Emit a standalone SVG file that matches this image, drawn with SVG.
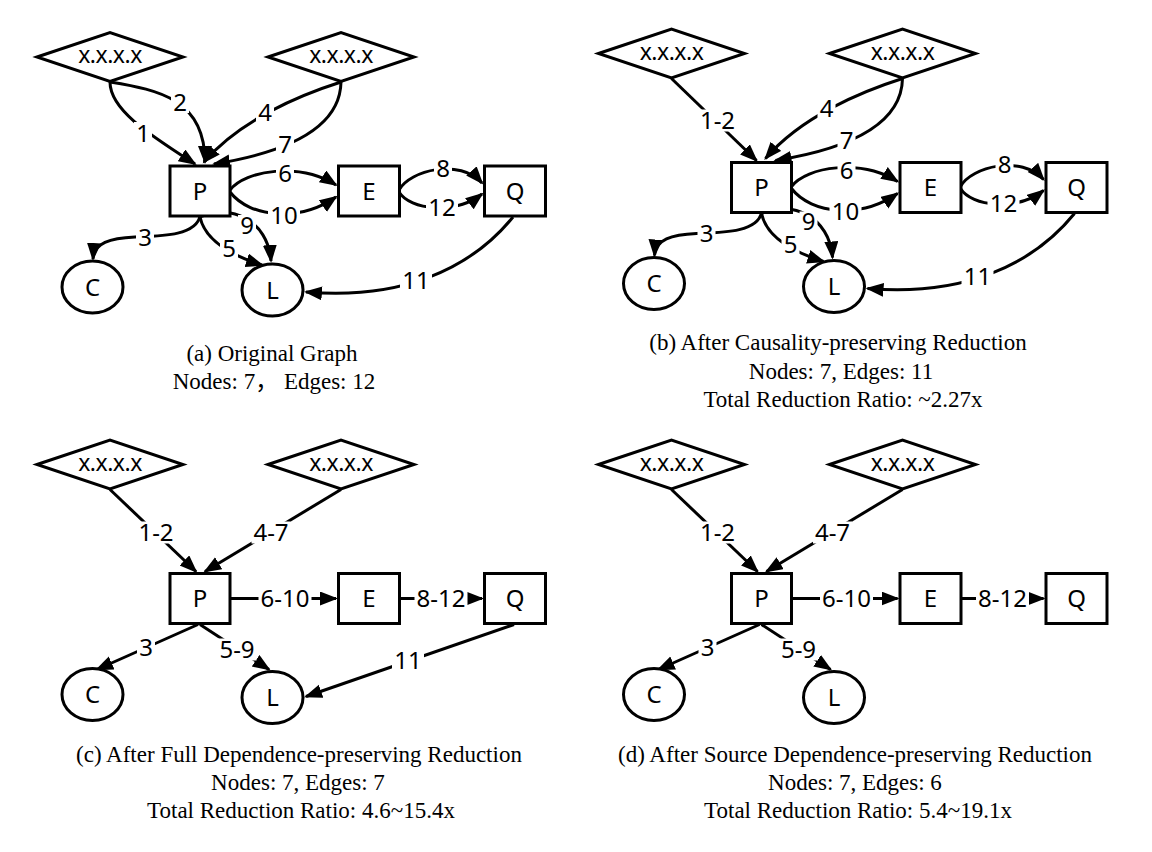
<svg xmlns="http://www.w3.org/2000/svg" width="1152" height="852" viewBox="0 0 1152 852">
<style>
.bg{fill:#fff}
.node{fill:#fff;stroke:#000;stroke-width:3}
.nt{font-family:"Noto Sans","DejaVu Sans",sans-serif;font-size:24px;text-anchor:middle;fill:#000}
.ip{font-family:"Noto Sans","DejaVu Sans",sans-serif;font-size:23px;letter-spacing:-0.5px;text-anchor:middle;fill:#000}
.edge{fill:none;stroke:#000;stroke-width:3;marker-end:url(#ah)}
.lb{fill:#fff}
.lbl{font-family:"Noto Sans","DejaVu Sans",sans-serif;font-size:24px;text-anchor:middle;fill:#000}
.cap{font-family:"Liberation Serif","Noto Sans CJK SC",serif;font-size:23px;text-anchor:middle;fill:#000}
</style>
<defs>
<marker id="ah" markerUnits="userSpaceOnUse" markerWidth="19" markerHeight="15" refX="16" refY="7" orient="auto">
<path d="M0,0 L18,7 L0,14 z" fill="#000"/>
</marker>
</defs>
<rect class="bg" x="0" y="0" width="1152" height="852"/>

<!-- Panel (a) -->
<g id="panel-a">
<g id="a-connectors">
<g id="a-e1"><path class="edge" d="M110,82 C110,110 150,135 195,164"/><rect class="lb" x="134" y="122" width="18" height="22"/><text class="lbl" x="143" y="141.5">1</text></g>
<g id="a-e2"><path class="edge" d="M110,82 C160,90 205,100 205,162"/><rect class="lb" x="171" y="91" width="18" height="22"/><text class="lbl" x="180" y="110.5">2</text></g>
<g id="a-e4"><path class="edge" d="M341,82 C300,95 240,120 204,162"/><rect class="lb" x="256" y="101" width="18" height="22"/><text class="lbl" x="265" y="120.5">4</text></g>
<g id="a-e7"><path class="edge" d="M341,82 C340,135 270,155 214,164"/><rect class="lb" x="276" y="133" width="18" height="22"/><text class="lbl" x="285" y="152.5">7</text></g>
<g id="a-e6"><path class="edge" d="M230,190 C245,170 300,162 336,185"/><rect class="lb" x="276" y="163" width="18" height="20"/><text class="lbl" x="285" y="182">6</text></g>
<g id="a-e10"><path class="edge" d="M230,192 C250,218 300,222 336,197"/><rect class="lb" x="268" y="204" width="32" height="22"/><text class="lbl" x="284" y="223.5">10</text></g>
<g id="a-e8"><path class="edge" d="M399,190 C410,170 460,158 482,183"/><rect class="lb" x="434" y="157" width="18" height="22"/><text class="lbl" x="443" y="176.5">8</text></g>
<g id="a-e12"><path class="edge" d="M399,192 C410,210 455,215 482,194"/><rect class="lb" x="426" y="196" width="32" height="22"/><text class="lbl" x="442" y="215.5">12</text></g>
<g id="a-e3"><path class="edge" d="M200,216 C196,236 160,236 135,237 C110,238 94,243 93,259"/><rect class="lb" x="136" y="226" width="18" height="22"/><text class="lbl" x="145" y="245.5">3</text></g>
<g id="a-e5"><path class="edge" d="M200,217 C205,240 230,255 262,265"/><rect class="lb" x="220" y="237" width="18" height="22"/><text class="lbl" x="229" y="256.5">5</text></g>
<g id="a-e9"><path class="edge" d="M200,217 C230,203 268,220 271,261"/><rect class="lb" x="238" y="215" width="18" height="21"/><text class="lbl" x="247" y="233.5">9</text></g>
<g id="a-e11"><path class="edge" d="M513,217 C470,270 400,300 306,292"/><rect class="lb" x="400" y="269" width="32" height="22"/><text class="lbl" x="416" y="288.5">11</text></g>
</g>
<g id="a-src1"><polygon class="node" points="37,57 110,32.5 183,57 110,81.5"/><text class="ip" x="110" y="63">x.x.x.x</text></g>
<g id="a-src2"><polygon class="node" points="268,57 341,32.5 414,57 341,81.5"/><text class="ip" x="341" y="63">x.x.x.x</text></g>
<g id="a-P"><rect class="node" x="170" y="166" width="60" height="50"/><text class="nt" x="200" y="199.5">P</text></g>
<g id="a-E"><rect class="node" x="338.5" y="166" width="61" height="50"/><text class="nt" x="369" y="199.5">E</text></g>
<g id="a-Q"><rect class="node" x="484.5" y="166" width="61" height="50"/><text class="nt" x="515" y="199.5">Q</text></g>
<g id="a-C"><ellipse class="node" cx="92.5" cy="287" rx="30.5" ry="26"/><text class="nt" x="92.5" y="295.5">C</text></g>
<g id="a-L"><ellipse class="node" cx="272.5" cy="290" rx="30.5" ry="26"/><text class="nt" x="272.5" y="298.5">L</text></g>
</g>

<!-- Panel (b) -->
<g id="panel-b" transform="translate(561.5,-3.5)">
<g id="b-connectors">
<g id="b-e1-2"><path class="edge" d="M110,82 L195,164"/><rect class="lb" x="136.5" y="113" width="39" height="22"/><text class="lbl" x="156" y="132.5">1-2</text></g>
<g id="b-e4"><path class="edge" d="M341,82 C300,95 240,120 204,162"/><rect class="lb" x="256" y="101" width="18" height="22"/><text class="lbl" x="265" y="120.5">4</text></g>
<g id="b-e7"><path class="edge" d="M341,82 C340,135 270,155 214,164"/><rect class="lb" x="276" y="133" width="18" height="22"/><text class="lbl" x="285" y="152.5">7</text></g>
<g id="b-e6"><path class="edge" d="M230,190 C245,170 300,162 336,185"/><rect class="lb" x="276" y="163" width="18" height="20"/><text class="lbl" x="285" y="182">6</text></g>
<g id="b-e10"><path class="edge" d="M230,192 C250,218 300,222 336,197"/><rect class="lb" x="268" y="204" width="32" height="22"/><text class="lbl" x="284" y="223.5">10</text></g>
<g id="b-e8"><path class="edge" d="M399,190 C410,170 460,158 482,183"/><rect class="lb" x="434" y="157" width="18" height="22"/><text class="lbl" x="443" y="176.5">8</text></g>
<g id="b-e12"><path class="edge" d="M399,192 C410,210 455,215 482,194"/><rect class="lb" x="426" y="196" width="32" height="22"/><text class="lbl" x="442" y="215.5">12</text></g>
<g id="b-e3"><path class="edge" d="M200,216 C196,236 160,236 135,237 C110,238 94,243 93,259"/><rect class="lb" x="136" y="226" width="18" height="22"/><text class="lbl" x="145" y="245.5">3</text></g>
<g id="b-e5"><path class="edge" d="M200,217 C205,240 230,255 262,265"/><rect class="lb" x="220" y="237" width="18" height="22"/><text class="lbl" x="229" y="256.5">5</text></g>
<g id="b-e9"><path class="edge" d="M200,217 C230,203 268,220 271,261"/><rect class="lb" x="238" y="215" width="18" height="21"/><text class="lbl" x="247" y="233.5">9</text></g>
<g id="b-e11"><path class="edge" d="M513,217 C470,270 400,300 306,292"/><rect class="lb" x="400" y="269" width="32" height="22"/><text class="lbl" x="416" y="288.5">11</text></g>
</g>
<g id="b-src1"><polygon class="node" points="37,57 110,32.5 183,57 110,81.5"/><text class="ip" x="110" y="63">x.x.x.x</text></g>
<g id="b-src2"><polygon class="node" points="268,57 341,32.5 414,57 341,81.5"/><text class="ip" x="341" y="63">x.x.x.x</text></g>
<g id="b-P"><rect class="node" x="170" y="166" width="60" height="50"/><text class="nt" x="200" y="199.5">P</text></g>
<g id="b-E"><rect class="node" x="338.5" y="166" width="61" height="50"/><text class="nt" x="369" y="199.5">E</text></g>
<g id="b-Q"><rect class="node" x="484.5" y="166" width="61" height="50"/><text class="nt" x="515" y="199.5">Q</text></g>
<g id="b-C"><ellipse class="node" cx="92.5" cy="287" rx="30.5" ry="26"/><text class="nt" x="92.5" y="295.5">C</text></g>
<g id="b-L"><ellipse class="node" cx="272.5" cy="290" rx="30.5" ry="26"/><text class="nt" x="272.5" y="298.5">L</text></g>
</g>

<!-- Panel (c) -->
<g id="panel-c" transform="translate(0,407.5)">
<g id="c-connectors">
<g id="c-e1-2"><path class="edge" d="M110,82 L196,164"/><rect class="lb" x="136.5" y="114" width="39" height="22"/><text class="lbl" x="156" y="133.5">1-2</text></g>
<g id="c-e4-7"><path class="edge" d="M341,82 L205,164"/><rect class="lb" x="251.5" y="114" width="39" height="22"/><text class="lbl" x="271" y="133.5">4-7</text></g>
<g id="c-e6-10"><path class="edge" d="M231,191 L336,191"/><rect class="lb" x="258.5" y="180" width="53" height="22"/><text class="lbl" x="285" y="199.5">6-10</text></g>
<g id="c-e8-12"><path class="edge" d="M400,191 L482,191"/><rect class="lb" x="414.5" y="180" width="53" height="22"/><text class="lbl" x="441" y="199.5">8-12</text></g>
<g id="c-e3"><path class="edge" d="M198,217 L97,262"/><rect class="lb" x="137" y="229" width="18" height="22"/><text class="lbl" x="146" y="248.5">3</text></g>
<g id="c-e5-9"><path class="edge" d="M200,217 L269,262"/><rect class="lb" x="217.5" y="231" width="39" height="22"/><text class="lbl" x="237" y="250.5">5-9</text></g>
<g id="c-e11"><path class="edge" d="M514,217 L306,289"/><rect class="lb" x="392" y="242" width="32" height="22"/><text class="lbl" x="408" y="261.5">11</text></g>
</g>
<g id="c-src1"><polygon class="node" points="37,57 110,32.5 183,57 110,81.5"/><text class="ip" x="110" y="63">x.x.x.x</text></g>
<g id="c-src2"><polygon class="node" points="268,57 341,32.5 414,57 341,81.5"/><text class="ip" x="341" y="63">x.x.x.x</text></g>
<g id="c-P"><rect class="node" x="170" y="166" width="60" height="50"/><text class="nt" x="200" y="199.5">P</text></g>
<g id="c-E"><rect class="node" x="338.5" y="166" width="61" height="50"/><text class="nt" x="369" y="199.5">E</text></g>
<g id="c-Q"><rect class="node" x="484.5" y="166" width="61" height="50"/><text class="nt" x="515" y="199.5">Q</text></g>
<g id="c-C"><ellipse class="node" cx="92.5" cy="287" rx="30.5" ry="26"/><text class="nt" x="92.5" y="295.5">C</text></g>
<g id="c-L"><ellipse class="node" cx="272.5" cy="290" rx="30.5" ry="26"/><text class="nt" x="272.5" y="298.5">L</text></g>
</g>

<!-- Panel (d) -->
<g id="panel-d" transform="translate(561.5,407.5)">
<g id="d-connectors">
<g id="d-e1-2"><path class="edge" d="M110,82 L196,164"/><rect class="lb" x="136.5" y="114" width="39" height="22"/><text class="lbl" x="156" y="133.5">1-2</text></g>
<g id="d-e4-7"><path class="edge" d="M341,82 L205,164"/><rect class="lb" x="251.5" y="114" width="39" height="22"/><text class="lbl" x="271" y="133.5">4-7</text></g>
<g id="d-e6-10"><path class="edge" d="M231,191 L336,191"/><rect class="lb" x="258.5" y="180" width="53" height="22"/><text class="lbl" x="285" y="199.5">6-10</text></g>
<g id="d-e8-12"><path class="edge" d="M400,191 L482,191"/><rect class="lb" x="414.5" y="180" width="53" height="22"/><text class="lbl" x="441" y="199.5">8-12</text></g>
<g id="d-e3"><path class="edge" d="M198,217 L97,262"/><rect class="lb" x="137" y="229" width="18" height="22"/><text class="lbl" x="146" y="248.5">3</text></g>
<g id="d-e5-9"><path class="edge" d="M200,217 L269,262"/><rect class="lb" x="217.5" y="231" width="39" height="22"/><text class="lbl" x="237" y="250.5">5-9</text></g>
</g>
<g id="d-src1"><polygon class="node" points="37,57 110,32.5 183,57 110,81.5"/><text class="ip" x="110" y="63">x.x.x.x</text></g>
<g id="d-src2"><polygon class="node" points="268,57 341,32.5 414,57 341,81.5"/><text class="ip" x="341" y="63">x.x.x.x</text></g>
<g id="d-P"><rect class="node" x="170" y="166" width="60" height="50"/><text class="nt" x="200" y="199.5">P</text></g>
<g id="d-E"><rect class="node" x="338.5" y="166" width="61" height="50"/><text class="nt" x="369" y="199.5">E</text></g>
<g id="d-Q"><rect class="node" x="484.5" y="166" width="61" height="50"/><text class="nt" x="515" y="199.5">Q</text></g>
<g id="d-C"><ellipse class="node" cx="92.5" cy="287" rx="30.5" ry="26"/><text class="nt" x="92.5" y="295.5">C</text></g>
<g id="d-L"><ellipse class="node" cx="272.5" cy="290" rx="30.5" ry="26"/><text class="nt" x="272.5" y="298.5">L</text></g>
</g>

<!-- Captions -->
<g id="captions">
<text class="cap" x="272" y="361">(a) Original Graph</text>
<text class="cap" x="274" y="389">Nodes: 7， Edges: 12</text>
<text class="cap" x="838" y="350">(b) After Causality-preserving Reduction</text>
<text class="cap" x="841" y="378.5">Nodes: 7, Edges: 11</text>
<text class="cap" x="843" y="407">Total Reduction Ratio: ~2.27x</text>
<text class="cap" x="299" y="762">(c) After Full Dependence-preserving Reduction</text>
<text class="cap" x="298" y="790">Nodes: 7, Edges: 7</text>
<text class="cap" x="301" y="818">Total Reduction Ratio: 4.6~15.4x</text>
<text class="cap" x="855" y="762">(d) After Source Dependence-preserving Reduction</text>
<text class="cap" x="855" y="790">Nodes: 7, Edges: 6</text>
<text class="cap" x="858" y="818">Total Reduction Ratio: 5.4~19.1x</text>
</g>
</svg>
